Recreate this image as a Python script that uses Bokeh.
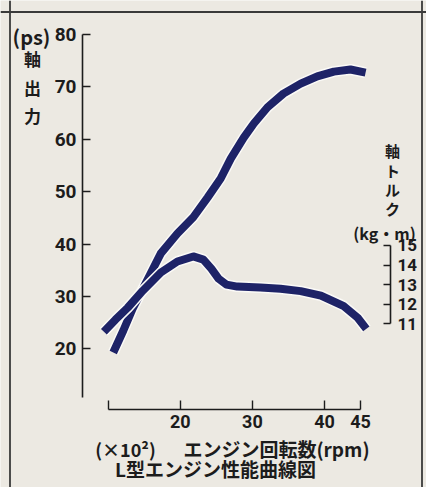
from bokeh.plotting import figure
from bokeh.models import Range1d, LinearAxis, FixedTicker, Label, Span
from bokeh.embed import file_html
from bokeh.resources import INLINE

# ---------------- data ----------------
rpm_ticks = [10, 20, 30, 40, 45]
rpm_tick_labels = {10: "", 20: "20", 30: "30", 40: "40", 45: "45"}
ps_ticks = [20, 30, 40, 50, 60, 70, 80]
torque_ticks = [11, 12, 13, 14, 15]

# shaft output (ps) vs engine speed (x100 rpm)
power_rpm = [10.7, 12.1, 13.4, 14.9, 17.3, 19.6, 21.8, 23.8, 25.6, 27.0, 28.8,
             30.2, 32.1, 34.3, 36.7, 39.0, 41.3, 43.6, 45.7]
power_ps = [19.3, 23.5, 27.7, 31.7, 38.2, 42.0, 45.1, 48.9, 52.5, 56.3, 60.3,
            63.0, 66.1, 68.7, 70.6, 72.0, 72.9, 73.3, 72.7]

# shaft torque (kg-m) vs engine speed (x100 rpm)
torque_rpm = [9.4, 11.0, 12.7, 14.8, 17.3, 19.6, 21.8, 23.2, 24.3, 25.3, 26.4,
              27.9, 31.1, 33.9, 36.7, 39.5, 42.6, 44.6, 45.8]
torque_kgm = [10.59, 11.21, 11.82, 12.69, 13.62, 14.18, 14.44, 14.28, 13.82,
              13.31, 13.00, 12.90, 12.85, 12.79, 12.67, 12.44, 11.92, 11.31, 10.74]

# ---------------- layout constants ----------------
W, H = 426, 487
AX_L, AX_R, AX_B, AX_BOT_END = 82, 390, 409, 397   # axis positions (px)


def xd(px):
    return (px - 35.6) / 7.21


def yd(py):
    return 20 + (348.3 - py) / 5.24


def td(py):
    return 11 + (323.3 - py) / 19.58


BG = "#ece9e2"
INK = "#1c1c1c"
NAVY = "#1e2367"
JP = "Noto Sans CJK JP"
NUM = "Roboto"

p = figure(width=W, height=H, output_backend="svg", toolbar_location=None,
           x_range=Range1d(xd(0), xd(W)), y_range=Range1d(yd(H), yd(0)),
           min_border=0)
p.extra_y_ranges = {"torque": Range1d(td(H), td(0))}
p.min_border_left = p.min_border_right = 0
p.min_border_top = p.min_border_bottom = 0
p.background_fill_color = BG
p.border_fill_color = BG
p.outline_line_color = None
p.xgrid.visible = False
p.ygrid.visible = False


def style_axis(ax, size, tick_in, standoff):
    ax.axis_line_color = INK
    ax.axis_line_width = 1.6
    ax.major_tick_line_color = INK
    ax.major_tick_line_width = 1.4
    ax.major_tick_in = tick_in
    ax.major_tick_out = 0
    ax.minor_tick_line_color = None
    ax.major_label_text_font = NUM
    ax.major_label_text_font_style = "bold"
    ax.major_label_text_font_size = size
    ax.major_label_text_color = INK
    ax.major_label_standoff = standoff


# left (ps) axis
ly = p.yaxis[0]
ly.ticker = FixedTicker(ticks=ps_ticks)
ly.bounds = (yd(AX_BOT_END), 80)
ly.fixed_location = xd(AX_L)
style_axis(ly, "19px", 8, 6)

# bottom (rpm) axis
bx = p.xaxis[0]
bx.ticker = FixedTicker(ticks=rpm_ticks)
bx.major_label_overrides = rpm_tick_labels
bx.bounds = (10, 45)
bx.fixed_location = yd(AX_B)
style_axis(bx, "18px", 9, 5)

# right (torque) axis
ry = LinearAxis(y_range_name="torque")
ry.ticker = FixedTicker(ticks=torque_ticks)
ry.bounds = (11, 15)
ry.fixed_location = xd(AX_R)
style_axis(ry, "17px", 7, 7)
p.add_layout(ry, "right")

# outer frame of the figure
BORDER = dict(line_color="#3a3a3a", line_width=1.8)
p.add_layout(Span(location=xd(9.5), dimension="height", **BORDER))
p.add_layout(Span(location=xd(421.5), dimension="height", **BORDER))
p.add_layout(Span(location=yd(11.5), dimension="width", **BORDER))

# curves
p.line(power_rpm, power_ps, line_width=11, line_color="#fbfaf7",
       line_join="round", line_cap="butt")
p.line(power_rpm, power_ps, line_width=8, line_color=NAVY,
       line_join="round", line_cap="butt")
p.line(torque_rpm, torque_kgm, y_range_name="torque", line_width=11,
       line_color="#fbfaf7", line_join="round", line_cap="butt")
p.line(torque_rpm, torque_kgm, y_range_name="torque", line_width=8,
       line_color=NAVY, line_join="round", line_cap="butt")


def lab(text, px, py, size, align="center", font=JP):
    p.add_layout(Label(x=xd(px), y=yd(py), text=text, text_font=font,
                       text_font_size=size, text_font_style="bold",
                       text_color=INK, text_align=align,
                       text_baseline="middle"))


lab("(ps)", 31, 36, "20px")
for ch, py in zip(["軸", "出", "力"], [58, 87, 115]):
    lab(ch, 32, py, "17px")
for ch, py in zip(["軸", "ト", "ル", "ク"], [150, 170, 189, 208]):
    lab(ch, 392, py, "15px")
lab("(kg・m)", 384, 232, "16px")
lab("(×10²)", 125, 448, "18px")
lab("エンジン回転数(rpm)", 276, 448, "19px")
lab("L型エンジン性能曲線図", 215, 468, "19px")

open("out.html", "w").write(file_html(p, INLINE))
